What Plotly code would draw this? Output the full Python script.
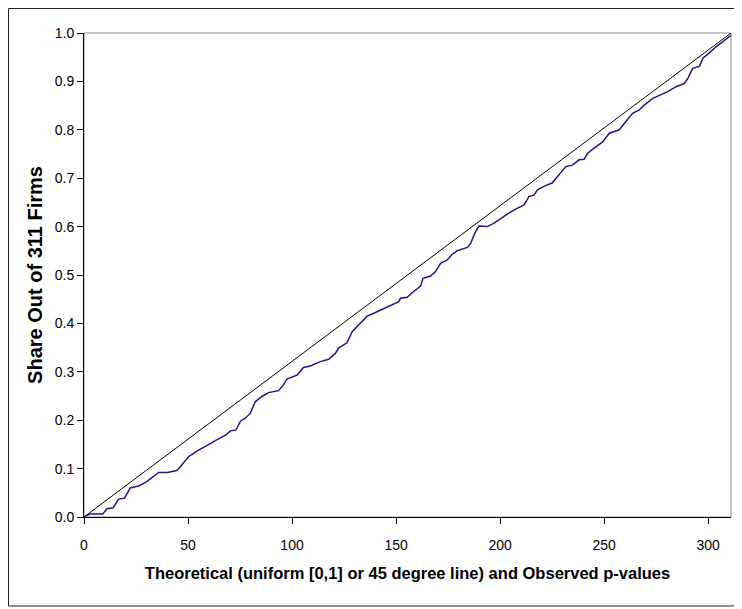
import plotly.graph_objects as go

# Observed p-value curve
obs_x = [0, 1, 3, 9, 11, 14, 16.6, 19.5, 22.2, 26.2, 30.2, 33.5, 35.9, 40, 44.7, 46.3,
         50.3, 54.3, 59.2, 64, 68, 70.4, 73.1, 75.2, 77.5, 79.9, 82.3, 85.5, 88.7,
         93.5, 95.9, 97.5, 102.4, 105.5, 108.8, 113.6, 117.6, 120.8, 122.4, 126.4,
         128.9, 130.4, 132.9, 136.1, 139.3, 144.1, 148.1, 151.3, 152.1, 155.3, 158.5,
         161.8, 163, 166.6, 169, 171.4, 174.6, 177, 179.4, 184.3, 185.8, 187.8, 189.8,
         193.9, 197.1, 200.3, 203.5, 207.5, 211.5, 213.9, 216.3, 218, 221, 225, 227,
         229.2, 231.6, 234.8, 238, 240.4, 242, 245.2, 249.3, 252.5, 257.3, 260.5,
         263.7, 266.9, 269.3, 273.4, 277.4, 280.6, 284.6, 288.6, 290.2, 292.6, 295.8,
         297.5, 300.6, 303.9, 307.1, 309.5, 311]
obs_y = [0, 0.003, 0.006, 0.006, 0.017, 0.019, 0.037, 0.039, 0.060, 0.064, 0.073, 0.083,
         0.092, 0.092, 0.096, 0.104, 0.125, 0.136, 0.149, 0.160, 0.169, 0.178, 0.180,
         0.198, 0.204, 0.214, 0.238, 0.249, 0.257, 0.261, 0.273, 0.285, 0.293, 0.309,
         0.312, 0.321, 0.326, 0.338, 0.349, 0.360, 0.383, 0.390, 0.400, 0.415, 0.421,
         0.431, 0.438, 0.445, 0.452, 0.454, 0.466, 0.477, 0.493, 0.498, 0.507, 0.524,
         0.531, 0.543, 0.550, 0.557, 0.565, 0.586, 0.601, 0.600, 0.607, 0.617, 0.626,
         0.636, 0.645, 0.662, 0.665, 0.676, 0.683, 0.690, 0.700, 0.710, 0.724, 0.727,
         0.738, 0.739, 0.751, 0.762, 0.775, 0.793, 0.800, 0.817, 0.834, 0.841, 0.851,
         0.865, 0.872, 0.879, 0.889, 0.896, 0.906, 0.927, 0.931, 0.948, 0.959, 0.972,
         0.982, 0.989, 0.995]

# Theoretical 45-degree line
theory_x = [0, 311]
theory_y = [0, 1]

x_ticks = [0, 50, 100, 150, 200, 250, 300]
y_ticks = [0.0, 0.1, 0.2, 0.3, 0.4, 0.5, 0.6, 0.7, 0.8, 0.9, 1.0]

FONT = "Liberation Sans, Arial, sans-serif"

fig = go.Figure()
fig.add_trace(go.Scatter(x=theory_x, y=theory_y, mode="lines",
                         line=dict(color="black", width=1), showlegend=False,
                         hoverinfo="skip"))
fig.add_trace(go.Scatter(x=obs_x, y=obs_y, mode="lines",
                         line=dict(color="#1a1a8c", width=1.5), showlegend=False))

fig.update_layout(
    width=734, height=601,
    margin=dict(l=76, r=11, t=25, b=92),
    paper_bgcolor="white", plot_bgcolor="white",
    font=dict(family=FONT, size=14, color="black"),
    shapes=[
        # plot area frame (gray)
        dict(type="rect", xref="paper", yref="paper", x0=0, y0=0, x1=1, y1=1,
             line=dict(color="#8a8a8a", width=1), layer="below"),
        # outer chart border
        dict(type="rect", xref="paper", yref="paper", x0=-0.1167, y0=-0.1839,
             x1=1.03, y1=1.0506, line=dict(color="#202020", width=1), layer="above"),
    ],
)
fig.update_xaxes(
    range=[0, 311], tickvals=x_ticks, ticks="outside", ticklen=6, tickcolor="black",
    showline=True, linecolor="black", linewidth=1, showgrid=False, zeroline=False,
    tickfont=dict(family=FONT, size=14), ticklabelstandoff=9,
    title=dict(text="<b>Theoretical (uniform [0,1] or 45 degree line) and Observed p-values</b>",
               font=dict(family=FONT, size=16.5), standoff=15),
)
fig.update_yaxes(
    range=[0, 1], tickvals=y_ticks, tickformat=".1f", ticks="outside", ticklen=6,
    tickcolor="black", showline=True, linecolor="black", linewidth=1, showgrid=False,
    zeroline=False, tickfont=dict(family=FONT, size=14),
    title=dict(text="<b>Share Out of 311 Firms</b>",
               font=dict(family=FONT, size=20), standoff=6),
)

fig.write_html("out.html")
